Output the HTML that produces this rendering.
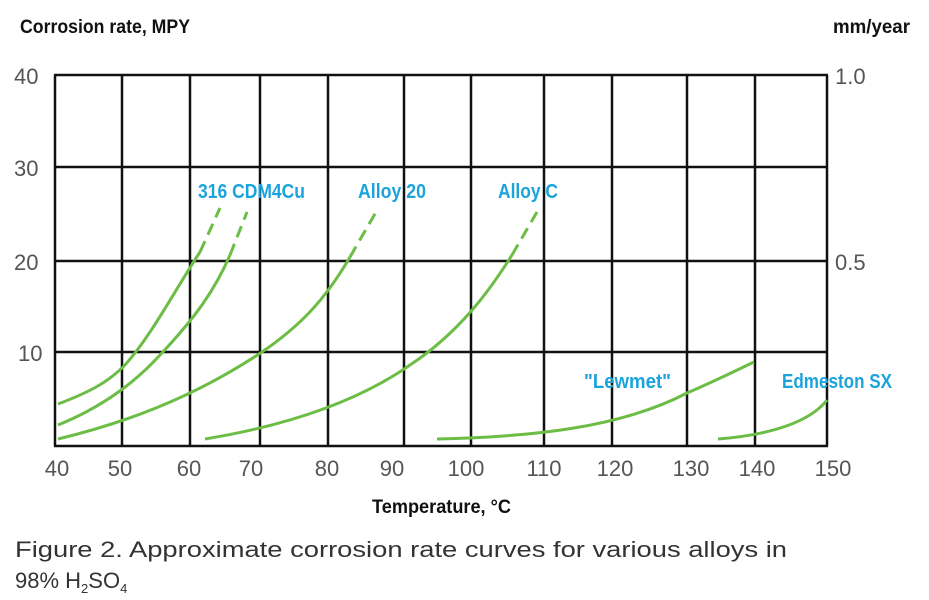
<!DOCTYPE html>
<html><head><meta charset="utf-8"><style>
html,body{margin:0;padding:0;background:#fff;}
svg{display:block;}
.t{font-family:"Liberation Sans Narrow","Liberation Sans",sans-serif;}
</style></head><body>
<svg width="929" height="600" viewBox="0 0 929 600" xmlns="http://www.w3.org/2000/svg">
<rect width="929" height="600" fill="#fff"/>
<g class="t" font-weight="bold" fill="#111" font-size="19">
<text x="20" y="33" textLength="170" lengthAdjust="spacingAndGlyphs">Corrosion rate, MPY</text>
<text x="833" y="33" textLength="77" lengthAdjust="spacingAndGlyphs">mm/year</text>
<text x="372" y="513" textLength="139" lengthAdjust="spacingAndGlyphs">Temperature, °C</text>
</g>
<g stroke="#111" stroke-width="2.5" fill="none">
<line x1="54" y1="75" x2="828" y2="75"/>
<line x1="54" y1="167" x2="828" y2="167"/>
<line x1="54" y1="261" x2="828" y2="261"/>
<line x1="54" y1="352" x2="828" y2="352"/>
<line x1="54" y1="446" x2="828" y2="446"/>
<line x1="55" y1="75" x2="55" y2="446"/>
<line x1="122" y1="75" x2="122" y2="446"/>
<line x1="190" y1="75" x2="190" y2="446"/>
<line x1="260" y1="75" x2="260" y2="446"/>
<line x1="328" y1="75" x2="328" y2="446"/>
<line x1="404" y1="75" x2="404" y2="446"/>
<line x1="471" y1="75" x2="471" y2="446"/>
<line x1="544" y1="75" x2="544" y2="446"/>
<line x1="612" y1="75" x2="612" y2="446"/>
<line x1="687" y1="75" x2="687" y2="446"/>
<line x1="755" y1="75" x2="755" y2="446"/>
<line x1="827" y1="75" x2="827" y2="446"/>
</g>
<g class="t" fill="#555" font-size="22">
<text x="14" y="84">40</text><text x="14" y="176">30</text><text x="14" y="270">20</text><text x="18" y="361">10</text>
<text x="835" y="84">1.0</text><text x="835" y="270">0.5</text>
<g text-anchor="middle">
<text x="57" y="476">40</text><text x="120" y="476">50</text><text x="189" y="476">60</text><text x="251" y="476">70</text><text x="327" y="476">80</text><text x="392" y="476">90</text><text x="466" y="476">100</text><text x="544" y="476">110</text><text x="615" y="476">120</text><text x="691" y="476">130</text><text x="757" y="476">140</text><text x="833" y="476">150</text>
</g>
</g>
<g stroke="#6cbd45" stroke-width="3" fill="none" stroke-linecap="butt">
<path d="M58,404 C90,392 108,382 124,366 C150,338 175,290 200,252"/>
<path d="M200,252 L220,208" stroke-dasharray="12,7"/>
<path d="M58,425 C95,410 130,388 160,355 C195,318 215,290 230,255"/>
<path d="M230,255 L247,212" stroke-dasharray="12,7"/>
<path d="M58,439 C120,424 190,400 262,352 C300,326 325,300 350,257"/>
<path d="M350,257 L376,212" stroke-dasharray="12,7"/>
<path d="M205,439 C290,425 360,400 410,365 C460,332 490,290 512,255"/>
<path d="M512,255 L537,212" stroke-dasharray="12,7"/>
<path d="M437,439 C530,437 620,428 687,393 C715,381 735,371 754,362"/>
<path d="M718,439 C770,435 810,422 827,400"/>
</g>
<g class="t" font-weight="bold" fill="#1ba3dc" font-size="20">
<text x="198" y="198" textLength="107" lengthAdjust="spacingAndGlyphs">316 CDM4Cu</text>
<text x="358" y="198" textLength="68" lengthAdjust="spacingAndGlyphs">Alloy 20</text>
<text x="498" y="198" textLength="60" lengthAdjust="spacingAndGlyphs">Alloy C</text>
<text x="584" y="388" textLength="87" lengthAdjust="spacingAndGlyphs">"Lewmet"</text>
<text x="782" y="388" textLength="110" lengthAdjust="spacingAndGlyphs">Edmeston SX</text>
</g>
<g font-family="Liberation Sans, sans-serif" fill="#333" font-size="22">
<text x="15" y="557" textLength="772" lengthAdjust="spacingAndGlyphs">Figure 2. Approximate corrosion rate curves for various alloys in</text>
<text x="15" y="588">98% H<tspan font-size="13" dy="5">2</tspan><tspan dy="-5">SO</tspan><tspan font-size="13" dy="5">4</tspan></text>
</g>
</svg>
</body></html>
